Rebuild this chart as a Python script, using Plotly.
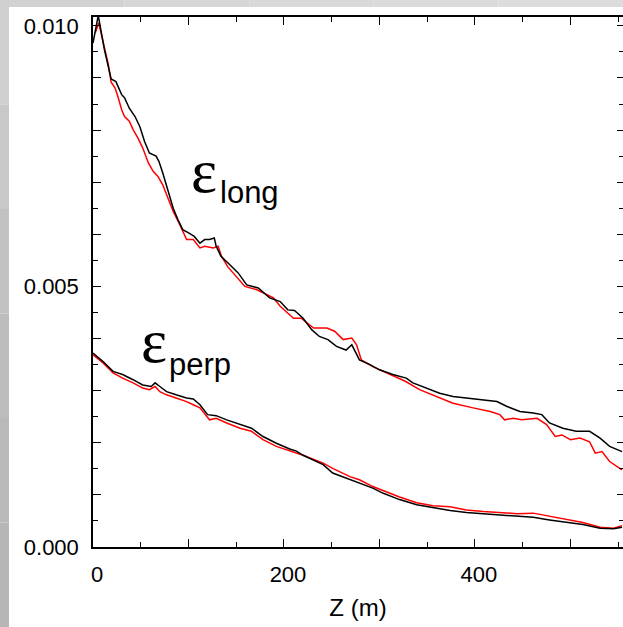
import plotly.graph_objects as go

# ---------------- data ----------------
z_long_black = [0, 5.5, 12, 16, 19, 24, 30, 33, 38, 44, 49, 54, 59, 66, 69, 73, 79, 84, 89, 94,
                101, 106, 112, 117, 122, 127, 129, 134, 143, 152, 161, 173, 185, 196, 204, 211,
                220, 229, 237, 246, 255, 265, 271, 274, 279, 290, 300, 314, 328, 335, 349, 363,
                377, 391, 405, 423, 433, 447, 461, 470, 478, 492, 506, 520, 531, 541, 554]
e_long_black = [9.67, 10.2, 9.54, 9.22, 8.98, 8.93, 8.68, 8.62, 8.42, 8.26, 8.07, 7.78, 7.56, 7.50,
                7.40, 7.18, 6.82, 6.50, 6.28, 6.09, 6.02, 5.96, 5.83, 5.90, 5.90, 5.93, 5.77, 5.58,
                5.42, 5.26, 5.03, 4.97, 4.78, 4.71, 4.55, 4.54, 4.39, 4.17, 4.04, 3.98, 3.85, 3.78,
                3.88, 3.78, 3.59, 3.50, 3.40, 3.31, 3.24, 3.15, 3.05, 2.95, 2.89, 2.86, 2.83, 2.79,
                2.70, 2.60, 2.57, 2.54, 2.38, 2.28, 2.22, 2.22, 2.09, 1.93, 1.83]

z_long_red = [2.5, 6, 12, 16, 19, 23, 26, 30, 33, 38, 42, 47, 52, 58, 63, 68, 73, 79, 84, 91, 98,
              105, 112, 117, 126, 131, 134.5, 141, 149, 159, 171, 182, 189, 196, 210, 218, 231,
              245, 253, 262, 271, 276, 281, 293, 307, 327, 342, 360, 377, 398, 416, 426, 431, 440,
              449, 465, 475, 484, 491, 500, 510, 520, 526, 533, 541, 554]
e_long_red = [9.87, 10.06, 9.58, 9.26, 8.92, 8.81, 8.65, 8.39, 8.26, 8.17, 8.01, 7.85, 7.66, 7.37,
              7.21, 7.11, 6.95, 6.66, 6.44, 6.18, 5.90, 5.90, 5.74, 5.77, 5.74, 5.77, 5.58, 5.38,
              5.22, 5.00, 4.94, 4.84, 4.78, 4.62, 4.39, 4.39, 4.20, 4.20, 4.14, 3.98, 4.01, 3.88,
              3.59, 3.46, 3.34, 3.18, 3.02, 2.89, 2.76, 2.67, 2.60, 2.54, 2.44, 2.47, 2.44, 2.47,
              2.35, 2.12, 2.15, 2.06, 2.09, 2.02, 1.80, 1.83, 1.64, 1.48]

z_perp_black = [0, 10.5, 21, 31, 42, 52, 61, 65, 70, 77, 87, 98, 105, 112, 120, 129, 140, 154, 166,
                178, 192, 206, 213, 220, 227, 241, 251, 266, 279, 293, 304, 321, 339, 356, 374, 391,
                409, 426, 444, 461, 478, 496, 513, 531, 545, 554]
e_perp_black = [3.72, 3.56, 3.37, 3.31, 3.21, 3.11, 3.08, 3.15, 3.08, 2.98, 2.92, 2.86, 2.84, 2.73,
                2.54, 2.52, 2.44, 2.35, 2.28, 2.12, 1.99, 1.88, 1.84, 1.76, 1.70, 1.58, 1.42, 1.32,
                1.23, 1.13, 1.03, 0.91, 0.81, 0.75, 0.70, 0.66, 0.64, 0.62, 0.59, 0.57, 0.52, 0.47,
                0.43, 0.36, 0.35, 0.38]

z_perp_red = [0, 10.5, 21, 31, 42, 52, 59, 65, 70, 77, 87, 98, 105, 112, 122, 129, 140, 154, 166,
              178, 192, 206, 213, 220, 241, 251, 269, 279, 293, 304, 321, 339, 356, 374, 391, 409,
              426, 444, 461, 478, 496, 513, 531, 545, 554]
e_perp_red = [3.69, 3.53, 3.34, 3.24, 3.15, 3.05, 3.02, 3.08, 2.98, 2.92, 2.86, 2.79, 2.73, 2.67,
              2.44, 2.47, 2.38, 2.28, 2.22, 2.06, 1.93, 1.84, 1.81, 1.76, 1.61, 1.51, 1.35, 1.29,
              1.16, 1.08, 0.96, 0.85, 0.79, 0.77, 0.71, 0.68, 0.66, 0.64, 0.65, 0.59, 0.52, 0.47,
              0.38, 0.36, 0.41]

x_tickvals = [0, 100, 200, 300, 400, 500]
x_ticktext = ["0", "", "200", "", "400", ""]
y_tickvals = [0.000, 0.001, 0.002, 0.003, 0.004, 0.005, 0.006, 0.007, 0.008, 0.009, 0.010]
y_ticktext = ["0.000", "", "", "", "", "0.005", "", "", "", "", "0.010"]

X_RANGE = [0, 555]
Y_RANGE = [0, 0.01017]
FONT = "Liberation Sans, Arial, Helvetica, sans-serif"

fig = go.Figure()

def add_line(z, e, color):
    fig.add_trace(go.Scatter(x=z, y=[v * 1e-3 for v in e], mode="lines",
                             line=dict(color=color, width=1.5), showlegend=False,
                             hoverinfo="skip", cliponaxis=True))

add_line(z_long_red, e_long_red, "#ff0000")
add_line(z_long_black, e_long_black, "#000000")
add_line(z_perp_red, e_perp_red, "#ff0000")
add_line(z_perp_black, e_perp_black, "#000000")

# invisible trace so the right-hand tick axis is drawn
fig.add_trace(go.Scatter(x=[0], y=[0], yaxis="y2", mode="markers",
                         marker=dict(opacity=0), showlegend=False, hoverinfo="skip"))

axis_common = dict(ticks="inside", tickcolor="black", tickwidth=1, showgrid=False,
                   zeroline=False, linecolor="black", linewidth=1.5, showline=True,
                   tickfont=dict(family=FONT, size=22, color="black"))

fig.update_layout(
    width=623, height=627,
    margin=dict(l=93, r=0, t=17, b=80),
    paper_bgcolor="white", plot_bgcolor="white",
    xaxis=dict(range=X_RANGE, tickmode="array", tickvals=x_tickvals, ticktext=x_ticktext,
               ticklen=8, mirror="ticks", ticklabelstandoff=7, ticklabelshift=4,
               minor=dict(dtick=50, ticklen=5, tickcolor="black", ticks="inside", showgrid=False),
               title=dict(text="Z (m)", font=dict(family=FONT, size=24, color="black"), standoff=13),
               **axis_common),
    yaxis=dict(range=Y_RANGE, tickmode="array", tickvals=y_tickvals, ticktext=y_ticktext,
               ticklen=8, ticklabelstandoff=8,
               minor=dict(dtick=0.0005, ticklen=5, tickcolor="black", ticks="inside", showgrid=False),
               **axis_common),
    yaxis2=dict(range=Y_RANGE, overlaying="y", side="right", showline=False, showgrid=False,
                zeroline=False, ticks="inside", ticklen=6, tickcolor="black", tickwidth=1,
                tickmode="array", tickvals=y_tickvals, showticklabels=False,
                minor=dict(dtick=0.0005, ticklen=4, tickcolor="black", ticks="inside", showgrid=False)),
)

# label annotations
EPS_FONT = dict(family="Liberation Serif, Times New Roman, serif", size=62, color="black")
SUB_FONT = dict(family=FONT, size=31, color="black")
labels = [
    dict(x=116.4, y=0.00721, text="ε", font=EPS_FONT, xanchor="center", yanchor="middle"),
    dict(x=131.0, y=0.00681, text="long", font=SUB_FONT, xanchor="left", yanchor="middle"),
    dict(x=64.1, y=0.00395, text="ε", font=EPS_FONT, xanchor="center", yanchor="middle"),
    dict(x=77.5, y=0.00351, text="perp", font=SUB_FONT, xanchor="left", yanchor="middle"),
]
for lab in labels:
    fig.add_annotation(xref="x", yref="y", showarrow=False, **lab)

# grey frame bands outside the white panel (paper coordinates)
def px2paper_x(px):
    return (px - 93) / 530.0

def px2paper_y(py):
    return (547 - py) / 530.0

shapes = []
top_cols = ["#d2d2d2", "#d6d6d6", "#d9d9d9", "#dbdbdb", "#dcdcdc"]
nseg = len(top_cols)
for i, c in enumerate(top_cols):
    shapes.append(dict(type="rect", xref="paper", yref="paper", layer="below",
                       x0=px2paper_x(623 * i / nseg), x1=px2paper_x(623 * (i + 1) / nseg),
                       y0=px2paper_y(7), y1=px2paper_y(0), fillcolor=c, line=dict(width=0)))
left_cols = ["#d0d0d0", "#c8c8c8", "#c2c2c2", "#bdbdbd", "#b9b9b9", "#b6b6b6"]
nseg = len(left_cols)
for i, c in enumerate(left_cols):
    shapes.append(dict(type="rect", xref="paper", yref="paper", layer="below",
                       x0=px2paper_x(0), x1=px2paper_x(9),
                       y0=px2paper_y(627 * (i + 1) / nseg), y1=px2paper_y(627 * i / nseg),
                       fillcolor=c, line=dict(width=0)))
fig.update_layout(shapes=shapes)

page_fix = ("document.body.style.margin='0';document.body.style.padding='0';"
            "document.body.style.overflow='hidden';"
            "document.documentElement.style.overflow='hidden';")
fig.write_html("out.html", post_script=page_fix, config={"displayModeBar": False})
